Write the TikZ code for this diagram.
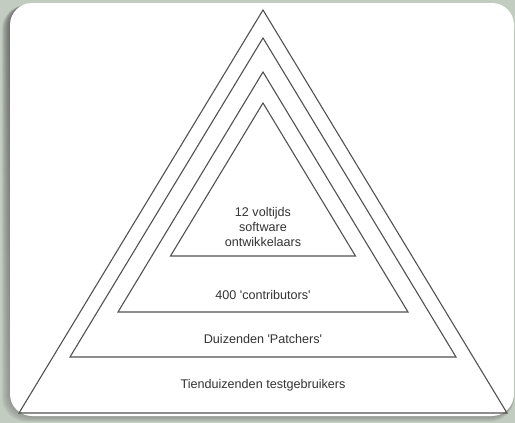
\documentclass[tikz,border=0pt]{standalone}
\usepackage{fontspec}
\setmainfont{Liberation Sans}
\definecolor{backdrop}{HTML}{C2CCC0}
\definecolor{shade}{HTML}{6F7E6C}
\begin{document}
\begin{tikzpicture}[x=1pt,y=-1pt,
  layer/.style={draw=black!68,line width=1.1pt,line join=miter},
  lbl/.style={font=\fontsize{12.6}{15}\selectfont,text=black!80,inner sep=0pt,align=center}]
\useasboundingbox (0,0) rectangle (515,423);
% backdrop
\fill[backdrop] (0,0) rectangle (515,423);
% soft shadow of the card, built from stacked translucent layers
\foreach \o in {8,7,...,1}
  \fill[shade,opacity=0.06,rounded corners=24] (10-\o,3+0.3*\o) rectangle (514,416+0.7*\o);
% card
\fill[white,rounded corners=22] (10,3) rectangle (514,416);
% nested triangles, outer to inner
\draw[layer] (263,10) -- (507,413) -- (19,413) -- cycle;
\draw[layer] (263,38) -- (456,357) -- (70,357) -- cycle;
\draw[layer] (263,72) -- (408,312) -- (118,312) -- cycle;
\draw[layer] (263,103) -- (355.5,256) -- (170.5,256) -- cycle;
% labels
\node[lbl] (core) at (263,227) {12 voltijds\\software\\ontwikkelaars};
\node[lbl] (contrib) at (263,295) {400 \textquotesingle contributors\textquotesingle};
\node[lbl] (patch) at (263,339) {Duizenden \textquotesingle Patchers\textquotesingle};
\node[lbl] (test) at (263,385) {Tienduizenden testgebruikers};
\end{tikzpicture}
\end{document}
